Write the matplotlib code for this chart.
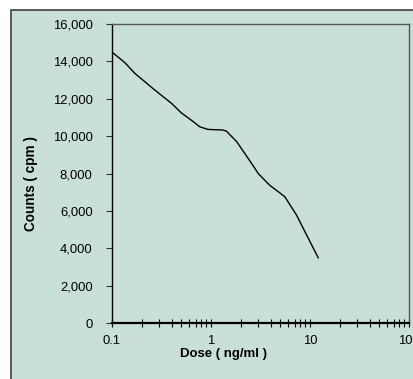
import matplotlib
matplotlib.use('Agg')
import matplotlib.pyplot as plt
import matplotlib.ticker as mticker
from matplotlib.patches import Rectangle

# dose-response curve
dose = [0.1, 0.135, 0.17, 0.27, 0.40, 0.50, 0.63, 0.77, 0.93, 1.3, 1.43,
        1.82, 2.57, 3.0, 3.9, 5.56, 7.3, 12.1]
counts = [14500, 13930, 13360, 12470, 11750, 11250, 10860, 10500, 10360,
          10330, 10270, 9700, 8540, 8000, 7380, 6760, 5780, 3490]
yticks = [0, 2000, 4000, 6000, 8000, 10000, 12000, 14000, 16000]
xticks = [0.1, 1, 10, 100]
xticklabels = ['0.1', '1', '10', '100']

bg = '#c9e0d8'
plt.rcParams['font.family'] = ['Liberation Sans', 'DejaVu Sans']

fig = plt.figure(figsize=(4.14, 3.79), dpi=100)
fig.patch.set_facecolor('white')
# outer chart area frame (runs off the right/bottom edge)
fig.patches.append(Rectangle((11/414, -0.1), 1.2, 1.1 - 10/379,
                             transform=fig.transFigure, facecolor=bg,
                             edgecolor='#404040', lw=1.2, zorder=-1))

ax = fig.add_axes([112/414, 56/379, 297/414, 299/379])
ax.set_facecolor(bg)
ax.plot(dose, counts, color='black', lw=1.0)

ax.set_xscale('log')
ax.set_xlim(0.1, 100)
ax.set_ylim(0, 16000)
ax.set_xticks(xticks)
ax.set_xticklabels(xticklabels)
ax.xaxis.set_minor_locator(mticker.LogLocator(base=10, subs=range(2, 10)))
ax.xaxis.set_minor_formatter(mticker.NullFormatter())
ax.set_yticks(yticks)
ax.yaxis.set_major_formatter(mticker.StrMethodFormatter('{x:,.0f}'))

ax.tick_params(axis='y', direction='out', length=4, width=0.8, pad=10,
               labelsize=9.4, color='#333333')
ax.tick_params(axis='x', which='both', direction='inout', length=6,
               width=0.8, pad=6, labelsize=9.4)

for s in ['top', 'right']:
    ax.spines[s].set_color('#555555')
    ax.spines[s].set_linewidth(1.0)
ax.spines['left'].set_color('black')
ax.spines['left'].set_linewidth(1.0)
ax.spines['bottom'].set_color('black')
ax.spines['bottom'].set_linewidth(1.6)

ax.set_xlabel('Dose ( ng/ml )', fontsize=9.5, fontweight='bold', labelpad=0)
ax.xaxis.set_label_coords(0.375, -0.084)
ax.set_ylabel('Counts ( cpm )', fontsize=9.8, fontweight='bold')
ax.yaxis.set_label_coords(-0.249, 0.468)

fig.savefig('out.png', dpi=100, facecolor='white')
